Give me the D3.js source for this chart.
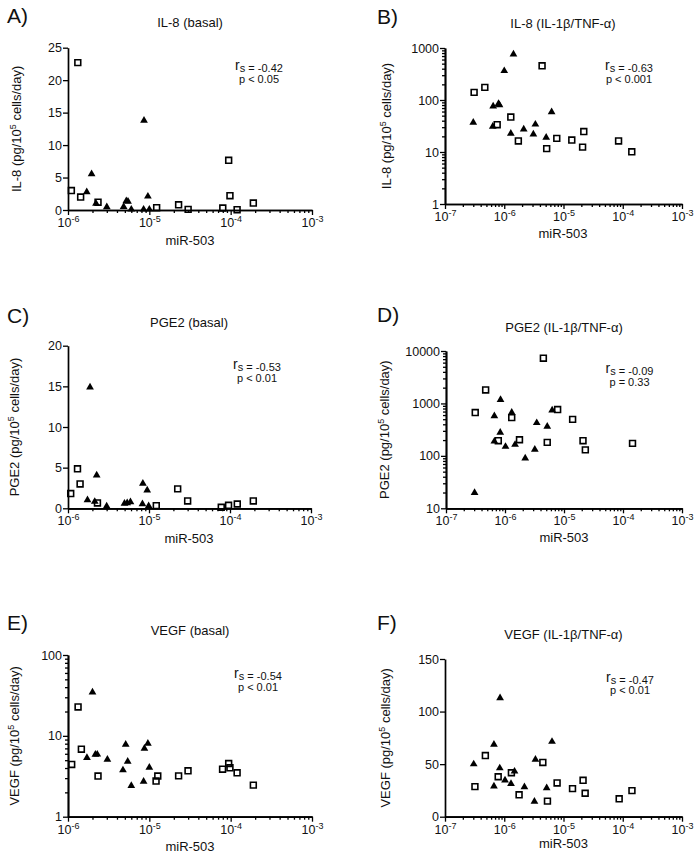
<!DOCTYPE html>
<html lang="en">
<head>
<meta charset="UTF-8">
<title>miR-503 vs IL-8 / PGE2 / VEGF</title>
<script src="https://cdn.jsdelivr.net/npm/d3@7"></script>
<style>
  body { margin: 0; background: #fff; }
  svg text { font-family: "Liberation Sans", Arial, sans-serif; fill: #111; }
</style>
</head>
<body>
<script>
// ---- data: [miR-503, secretion] ; squares = open squares, tri = filled triangles
var il8BasalSq  = [[1.1e-6,3.0],[1.32e-6,22.7],[1.43e-6,2.0],[2.34e-6,1.2],[1.23e-5,0.35],[2.29e-5,0.8],[3.0e-5,0.1],[8.0e-5,0.3],[9.45e-5,7.65],[9.8e-5,2.2],[1.2e-4,0.05],[1.9e-4,1.07]];
var il8BasalTri = [[1.7e-6,2.76],[1.95e-6,5.56],[2.21e-6,1.0],[3.0e-6,0.45],[4.83e-6,0.5],[5.21e-6,1.4],[5.47e-6,1.3],[6.0e-6,0.1],[8.5e-6,0.1],[8.6e-6,13.8],[9.6e-6,2.1],[1.0e-5,0.1]];

var il8StimSq  = [[3.1e-7,140],[4.7e-7,175],[7.6e-7,33.5],[1.29e-6,47],[1.73e-6,16.3],[4.35e-6,455],[5.2e-6,11.6],[7.7e-6,18.3],[1.38e-5,17],[2.1e-5,12.4],[2.2e-5,24.7],[8.5e-5,16.3],[1.42e-4,10.1]];
var il8StimTri = [[3.0e-7,37],[6.4e-7,31],[6.5e-7,76],[8.0e-7,85],[8.3e-7,80],[1.0e-6,363],[1.29e-6,22.6],[1.43e-6,760],[2.13e-6,27.5],[3.1e-6,22],[3.35e-6,34],[5.1e-6,19],[6.3e-6,59]];

var pgeBasalSq  = [[1.08e-6,1.81],[1.31e-6,4.86],[1.41e-6,3.0],[2.31e-6,0.66],[1.23e-5,0.33],[2.26e-5,2.39],[3.0e-5,0.9],[7.8e-5,0.12],[9.6e-5,0.37],[1.23e-4,0.53],[1.94e-4,0.9]];
var pgeBasalTri = [[1.74e-6,1.03],[1.87e-6,14.9],[2.14e-6,0.82],[2.26e-6,4.07],[3.0e-6,0.25],[4.98e-6,0.58],[5.38e-6,0.66],[5.9e-6,0.78],[8.3e-6,0.53],[8.4e-6,3.05],[9.5e-6,2.22],[9.9e-6,0.29]];

var pgeStimSq  = [[3.13e-7,670],[4.7e-7,1810],[7.7e-7,195],[1.3e-6,537],[1.76e-6,203],[4.47e-6,7300],[5.2e-6,181],[7.8e-6,765],[1.4e-5,497],[2.1e-5,195],[2.3e-5,130],[1.45e-4,173]];
var pgeStimTri = [[3.05e-7,19.8],[6.6e-7,577],[6.6e-7,189],[8.3e-7,280],[8.4e-7,1177],[1.02e-6,150],[1.3e-6,670],[1.48e-6,164],[2.2e-6,90],[3.2e-6,132],[3.45e-6,426],[5.2e-6,362],[6.3e-6,742]];

var vegfBasalSq  = [[1.11e-6,4.43],[1.33e-6,22.8],[1.46e-6,6.84],[2.34e-6,3.18],[1.21e-5,2.76],[1.27e-5,3.18],[2.29e-5,3.2],[2.99e-5,3.7],[7.95e-5,3.87],[9.45e-5,4.55],[9.8e-5,4.03],[1.2e-4,3.49],[1.9e-4,2.46]];
var vegfBasalTri = [[1.71e-6,5.35],[2.0e-6,34.6],[2.17e-6,5.89],[2.29e-6,5.9],[3.05e-6,5.1],[4.74e-6,3.77],[5.12e-6,7.82],[5.42e-6,4.82],[6.0e-6,2.41],[8.5e-6,2.73],[8.7e-6,6.98],[9.6e-6,8.04],[1.0e-5,4.06]];

var vegfStimSq  = [[3.2e-7,28.6],[4.8e-7,58.2],[7.9e-7,38],[1.32e-6,41.8],[1.78e-6,20.8],[4.48e-6,51.6],[5.36e-6,14.8],[7.8e-6,32.1],[1.42e-5,26.7],[2.14e-5,34.6],[2.32e-5,22.3],[8.7e-5,17],[1.43e-4,24.8]];
var vegfStimTri = [[3.05e-7,50],[6.7e-7,68.6],[6.7e-7,28.9],[8.4e-7,46.2],[8.5e-7,113],[1.03e-6,34.6],[1.3e-6,31.4],[1.49e-6,43.1],[2.19e-6,28.3],[3.23e-6,14.5],[3.36e-6,54.4],[5.2e-6,27.4],[6.4e-6,71.4]];

// tick labels
var xExpShort = [-6,-5,-4,-3];
var xExpLong  = [-7,-6,-5,-4,-3];
var yTicksIl8Basal = [0,5,10,15,20,25];
var yTicksIl8Stim  = [1,10,100,1000];
var yTicksPgeBasal = [0,5,10,15,20];
var yTicksPgeStim  = [10,100,1000,10000];
var yTicksVegfBasal = [1,10,100];
var yTicksVegfStim  = [0,50,100,150];

var stats = [
  ['-0.42','p < 0.05'], ['-0.63','p < 0.001'],
  ['-0.53','p < 0.01'], ['-0.09','p = 0.33'],
  ['-0.54','p < 0.01'], ['-0.47','p < 0.01']
];

// ---- layout
var panels = [
  {letter:'A)', title:'IL-8 (basal)', ylab:'IL-8', sq:il8BasalSq, tri:il8BasalTri, xExp:xExpShort, yLog:false, yTicks:yTicksIl8Basal,
   x0:68, x1:312, yTop:47.7, yBot:210, lx:7, ly:23, cx:190, ty:27, ax:259, ry:70, py:83, xly:245, ylx:21},
  {letter:'B)', title:'IL-8 (IL-1\u03b2/TNF-\u03b1)', ylab:'IL-8', sq:il8StimSq, tri:il8StimTri, xExp:xExpLong, yLog:true, yTicks:yTicksIl8Stim,
   x0:445, x1:682, yTop:48, yBot:204, lx:377, ly:24, cx:563, ty:28, ax:629, ry:70, py:83, xly:238, ylx:391},
  {letter:'C)', title:'PGE2 (basal)', ylab:'PGE2', sq:pgeBasalSq, tri:pgeBasalTri, xExp:xExpShort, yLog:false, yTicks:yTicksPgeBasal,
   x0:68, x1:311, yTop:345.7, yBot:508.3, lx:7, ly:322.5, cx:189, ty:326.5, ax:257, ry:369, py:382, xly:543, ylx:19},
  {letter:'D)', title:'PGE2 (IL-1\u03b2/TNF-\u03b1)', ylab:'PGE2', sq:pgeStimSq, tri:pgeStimTri, xExp:xExpLong, yLog:true, yTicks:yTicksPgeStim,
   x0:446, x1:682, yTop:351, yBot:508.3, lx:377, ly:322, cx:564, ty:331.5, ax:629.5, ry:373, py:386, xly:541.5, ylx:389},
  {letter:'E)', title:'VEGF (basal)', ylab:'VEGF', sq:vegfBasalSq, tri:vegfBasalTri, xExp:xExpShort, yLog:true, yTicks:yTicksVegfBasal,
   x0:68, x1:312, yTop:655, yBot:816.7, lx:7, ly:630, cx:190, ty:635, ax:258, ry:678, py:690.5, xly:850.5, ylx:19},
  {letter:'F)', title:'VEGF (IL-1\u03b2/TNF-\u03b1)', ylab:'VEGF', sq:vegfStimSq, tri:vegfStimTri, xExp:xExpLong, yLog:false, yTicks:yTicksVegfStim,
   x0:445, x1:682, yTop:659, yBot:816.7, lx:377, ly:630, cx:563.5, ty:639, ax:630, ry:681.5, py:694, xly:848, ylx:390}
];

var svg = d3.select('body').append('svg').attr('width',700).attr('height',858);

function isDecade(t){
  var l = Math.log10(t);
  return Math.abs(l - Math.round(l)) < 1e-6;
}

function styleAxis(sel){
  sel.select('.domain').attr('stroke','#000').attr('stroke-width',1.7);
  sel.selectAll('.tick line').attr('stroke','#000').attr('stroke-width',1.3);
  sel.selectAll('.tick text').attr('font-size',12.5).attr('fill','#111');
}

panels.forEach(function(p, i){
  var g = svg.append('g');
  var xDom = [Math.pow(10,p.xExp[0]), Math.pow(10,p.xExp[p.xExp.length-1])];
  var x = d3.scaleLog().domain(xDom).range([p.x0, p.x1]);
  var yDom = [p.yTicks[0], p.yTicks[p.yTicks.length-1]];
  var y = (p.yLog ? d3.scaleLog() : d3.scaleLinear()).domain(yDom).range([p.yBot, p.yTop]);

  // x minor ticks
  var xm = g.append('g').attr('transform','translate(0,'+p.yBot+')')
    .call(d3.axisBottom(x).tickValues(x.ticks().filter(function(t){ return !isDecade(t); }))
      .tickSize(3).tickSizeOuter(0).tickFormat(''));
  styleAxis(xm);

  // x major ticks with 10^n labels
  var xa = g.append('g').attr('transform','translate(0,'+p.yBot+')')
    .call(d3.axisBottom(x).tickValues(p.xExp.map(function(e){ return Math.pow(10,e); }))
      .tickSize(5).tickSizeOuter(0).tickPadding(3).tickFormat(''));
  styleAxis(xa);
  xa.selectAll('.tick text').each(function(d){
    var t = d3.select(this);
    t.append('tspan').text('10');
    t.append('tspan').attr('dy',-5).attr('font-size',9).text(String(Math.round(Math.log10(d))));
  });

  // y axis
  if (p.yLog) {
    var ym = g.append('g').attr('transform','translate('+p.x0+',0)')
      .call(d3.axisLeft(y).tickValues(y.ticks().filter(function(t){ return !isDecade(t); }))
        .tickSize(3).tickSizeOuter(0).tickFormat(''));
    styleAxis(ym);
  }
  var ya = g.append('g').attr('transform','translate('+p.x0+',0)')
    .call(d3.axisLeft(y).tickValues(p.yTicks).tickSize(5).tickSizeOuter(0).tickPadding(1)
      .tickFormat(function(d){ return String(d); }));
  styleAxis(ya);

  // markers
  g.selectAll('path.sq').data(p.sq).join('path').attr('class','sq')
    .attr('d', d3.symbol(d3.symbolSquare, 34))
    .attr('transform', function(d){ return 'translate('+x(d[0])+','+y(d[1])+')'; })
    .attr('fill','none').attr('stroke','#000').attr('stroke-width',1.6);
  g.selectAll('path.tri').data(p.tri).join('path').attr('class','tri')
    .attr('d', d3.symbol(d3.symbolTriangle, 26))
    .attr('transform', function(d){ return 'translate('+x(d[0])+','+y(d[1])+')'; })
    .attr('fill','#000');

  // texts
  g.append('text').attr('x',p.lx).attr('y',p.ly).attr('font-size',21).text(p.letter);
  g.append('text').attr('x',p.cx).attr('y',p.ty).attr('text-anchor','middle').attr('font-size',13).text(p.title);
  g.append('text').attr('x',p.cx).attr('y',p.xly).attr('text-anchor','middle').attr('font-size',13).text('miR-503');

  var yl = g.append('text').attr('text-anchor','middle').attr('font-size',13)
    .attr('transform','translate('+p.ylx+','+((p.yTop+p.yBot)/2)+') rotate(-90)');
  yl.append('tspan').text(p.ylab+' (pg/10');
  yl.append('tspan').attr('dy',-5).attr('font-size',9).text('5');
  yl.append('tspan').attr('dy',5).text(' cells/day)');

  var rs = g.append('text').attr('x',p.ax).attr('y',p.ry).attr('text-anchor','middle').attr('font-size',14);
  rs.append('tspan').text('r');
  rs.append('tspan').attr('dy',2).attr('font-size',11).text('s = '+stats[i][0]);
  g.append('text').attr('x',p.ax).attr('y',p.py).attr('text-anchor','middle').attr('font-size',11).text(stats[i][1]);
});
</script>
</body>
</html>
